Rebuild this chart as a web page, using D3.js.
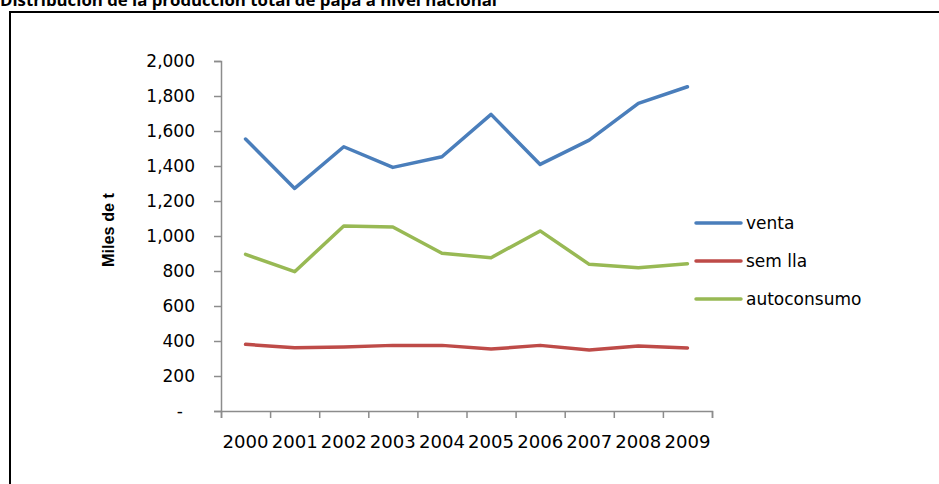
<!DOCTYPE html>
<html>
<head>
<meta charset="utf-8">
<script src="https://cdn.jsdelivr.net/npm/d3@7"></script>
<style>
  body { margin: 0; background: #fff; }
  svg { display: block; }
</style>
</head>
<body>
<svg id="chart" width="939" height="484"></svg>
<script>
// Producción de papa (miles de t), 2000–2009
const years = ["2000", "2001", "2002", "2003", "2004", "2005", "2006", "2007", "2008", "2009"];
const venta = [1554, 1272, 1510, 1392, 1453, 1695, 1409, 1548, 1758, 1853];
const semilla = [381, 362, 366, 375, 375, 354, 375, 349, 371, 360];
const autoconsumo = [895, 796, 1057, 1051, 901, 876, 1029, 838, 819, 842];
const seriesNames = ["venta", "sem lla", "autoconsumo"];
const seriesColors = ["#4A7EBB", "#BE4B48", "#98B954"];
const yTicks = [0, 200, 400, 600, 800, 1000, 1200, 1400, 1600, 1800, 2000];

const series = [venta, semilla, autoconsumo];
const svg = d3.select("#chart");

// Frame and title
svg.append("line").attr("x1", 9).attr("x2", 939).attr("y1", 12).attr("y2", 12)
  .attr("stroke", "#000").attr("stroke-width", 2);
svg.append("line").attr("x1", 10).attr("x2", 10).attr("y1", 11).attr("y2", 484)
  .attr("stroke", "#000").attr("stroke-width", 2);
svg.append("text").attr("x", 0).attr("y", 6)
  .attr("font-family", "'Open Sans', sans-serif").attr("font-weight", "bold")
  .attr("font-size", 16)
  .attr("textLength", 497).attr("lengthAdjust", "spacingAndGlyphs")
  .text("Distribución de la producción total de papa a nivel nacional");

// Plot area
const x0 = 221, x1 = 712, yTop = 61, yBot = 411;
const band = d3.scaleBand().domain(years).range([x0, x1]);
const edges = d3.scaleLinear().domain([0, years.length]).range([x0, x1]);
const y = d3.scaleLinear().domain([0, 2000]).range([yBot, yTop]);

const axisColor = "#8C8C8C";
const fmt = d3.format(",");

// Y axis
const gy = svg.append("g").attr("transform", `translate(${x0},0)`)
  .call(d3.axisLeft(y).tickValues(yTicks).tickSize(7).tickPadding(19)
    .tickFormat(d => d === 0 ? "-" : fmt(d)));
gy.select(".domain").attr("stroke", axisColor).attr("stroke-width", 1.5);
gy.selectAll(".tick line").attr("stroke", axisColor).attr("stroke-width", 1.5);
gy.selectAll(".tick text").attr("font-family", "'DejaVu Sans', sans-serif")
  .attr("font-size", 17).attr("fill", "#000")
  .attr("dx", d => d === 0 ? -12 : 0);

// X axis: tick marks on category edges, labels centered in each band
const gxTicks = svg.append("g").attr("transform", `translate(0,${yBot})`)
  .call(d3.axisBottom(edges).ticks(years.length).tickSize(7).tickFormat(""));
gxTicks.select(".domain").attr("stroke", axisColor).attr("stroke-width", 1.5);
gxTicks.selectAll(".tick line").attr("stroke", axisColor).attr("stroke-width", 1.5);

const gxLabels = svg.append("g").attr("transform", `translate(0,${yBot})`)
  .call(d3.axisBottom(band).tickSize(0).tickPadding(25));
gxLabels.select(".domain").remove();
gxLabels.selectAll(".tick text").attr("font-family", "'DejaVu Sans', sans-serif")
  .attr("font-size", 17).attr("fill", "#000")
  .attr("textLength", 46).attr("lengthAdjust", "spacingAndGlyphs");

// Y axis title
svg.append("text")
  .attr("transform", `translate(114,230) rotate(-90)`)
  .attr("text-anchor", "middle")
  .attr("font-family", "'Liberation Sans', Arial, sans-serif")
  .attr("font-weight", "bold").attr("font-size", 16)
  .attr("textLength", 74).attr("lengthAdjust", "spacingAndGlyphs")
  .text("Miles de t");

// Series lines
const line = d3.line()
  .x((d, i) => band(years[i]) + band.bandwidth() / 2)
  .y(d => y(d));

series.forEach((vals, k) => {
  svg.append("path").datum(vals)
    .attr("d", line)
    .attr("fill", "none")
    .attr("stroke", seriesColors[k])
    .attr("stroke-width", 3.5)
    .attr("stroke-linejoin", "round")
    .attr("stroke-linecap", "round");
});

// Legend
const legend = svg.append("g");
seriesNames.forEach((name, k) => {
  const ly = 223 + k * 38;
  legend.append("line").attr("x1", 696).attr("x2", 741).attr("y1", ly).attr("y2", ly)
    .attr("stroke", seriesColors[k]).attr("stroke-width", 3.5).attr("stroke-linecap", "round");
  legend.append("text").attr("x", 746).attr("y", ly + 6)
    .attr("font-family", "'DejaVu Sans', sans-serif").attr("font-size", 17)
    .text(name);
});
</script>
</body>
</html>
